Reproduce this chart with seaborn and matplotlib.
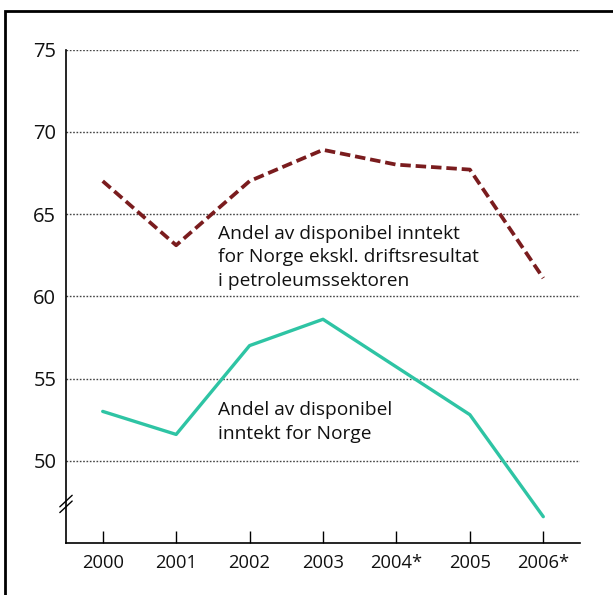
import matplotlib
matplotlib.use("Agg")
import matplotlib.pyplot as plt
import matplotlib.transforms as mtransforms
from matplotlib.patches import Rectangle
import seaborn as sns
import pandas as pd

years = ["2000", "2001", "2002", "2003", "2004*", "2005", "2006*"]
excl_petroleum = [67.0, 63.1, 67.0, 68.9, 68.0, 67.7, 61.1]
norge_total = [53.0, 51.6, 57.0, 58.6, 55.7, 52.8, 46.6]
y_ticks = [50, 55, 60, 65, 70, 75]
label_excl = "Andel av disponibel inntekt\nfor Norge ekskl. driftsresultat\ni petroleumssektoren"
label_total = "Andel av disponibel\ninntekt for Norge"

sns.set_style("white")
plt.rcParams['font.family'] = ['Open Sans', 'DejaVu Sans']

df = pd.DataFrame({"year": years, "excl": excl_petroleum, "total": norge_total})

fig = plt.figure(figsize=(6.13, 5.95), dpi=100)
ax = fig.add_axes([66/613, 1-543/595, (580-66)/613, (543-49.5)/595])

red = "#7a1c1e"
teal = "#2ec4a4"

sns.lineplot(data=df, x="year", y="excl", ax=ax, color=red, lw=2.7,
             sort=False, legend=False)
ax.lines[-1].set_dashes([2.8, 1.3])
sns.lineplot(data=df, x="year", y="total", ax=ax, color=teal, lw=2.4,
             sort=False, legend=False)

ax.set_xlim(-0.5, 6.5)
ax.set_ylim(45, 75)
ax.set_yticks(y_ticks)
ax.set_yticklabels([str(v) for v in y_ticks])
ax.set_xlabel("")
ax.set_ylabel("")

for v in y_ticks:
    ax.axhline(v, color="#444444", lw=1.0, ls=(0, (1.2, 1.2)), zorder=0)

for s in ["top", "right"]:
    ax.spines[s].set_visible(False)
for s in ["left", "bottom"]:
    ax.spines[s].set_color("black")
    ax.spines[s].set_linewidth(1.2)

ax.tick_params(axis="x", direction="in", length=8.5, width=1.0, color="black",
               labelsize=13.2, pad=8, bottom=True)
ax.tick_params(axis="y", length=0, labelsize=14.5, pad=7)
for lbl in ax.get_xticklabels() + ax.get_yticklabels():
    lbl.set_color("#111111")

# va="baseline" aligns the baseline of the last line
ax.text(1.57, 60.64, label_excl, fontsize=13.8, va="baseline", ha="left",
        linespacing=1.4, color="#111111")
ax.text(1.57, 51.34, label_total, fontsize=13.8, va="baseline", ha="left",
        linespacing=1.4, color="#111111")

# axis break marks
trans = mtransforms.blended_transform_factory(ax.transAxes, ax.transData)
for dy in (0.0, 0.35):
    ax.plot([-0.012, 0.012], [47.2 + dy - 0.35, 47.2 + dy + 0.35], color="black",
            lw=1.0, transform=trans, clip_on=False)

# partial frame around figure
fig.patches.append(Rectangle((5/613, -0.1), 1.2, 1.1 - 11/595,
                             transform=fig.transFigure, fill=False,
                             edgecolor="black", lw=2.0))

fig.savefig("out.png", dpi=100)
